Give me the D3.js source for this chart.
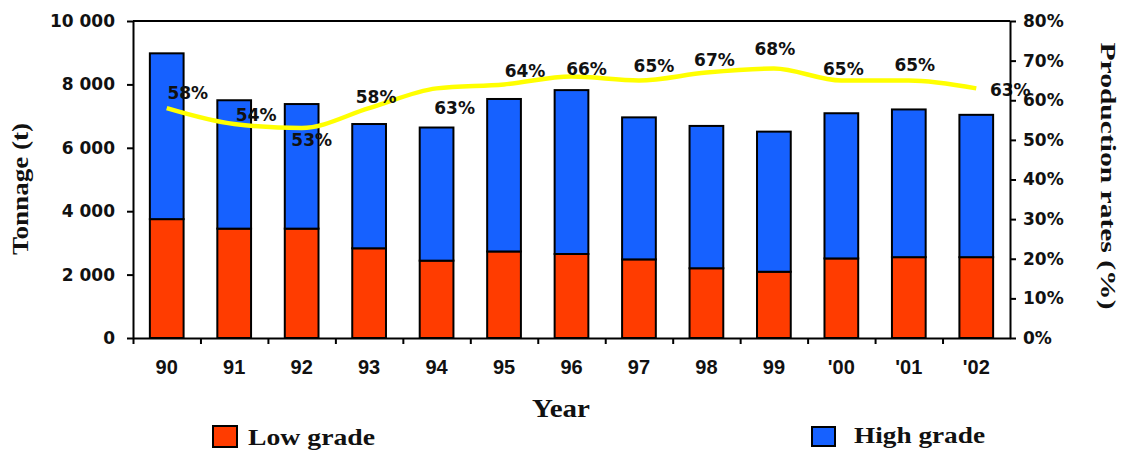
<!DOCTYPE html>
<html>
<head>
<meta charset="utf-8">
<script src="https://cdn.jsdelivr.net/npm/d3@7/dist/d3.min.js"></script>
<style>
  html, body { margin: 0; padding: 0; background: #fff; }
  svg { display: block; }
</style>
</head>
<body>
<svg id="chart" width="1126" height="451"></svg>
<script>
// Tonnage produced per year, split by grade, with the production rate line.
const years = ["90", "91", "92", "93", "94", "95", "96", "97", "98", "99", "'00", "'01", "'02"];
const lowGrade = [3750, 3450, 3450, 2830, 2440, 2730, 2650, 2480, 2200, 2090, 2510, 2550, 2550];
const highGrade = [5230, 4050, 3930, 3920, 4200, 4810, 5170, 4480, 4490, 4420, 4580, 4660, 4490];
const productionRates = [58, 54, 53, 58, 63, 64, 66, 65, 67, 68, 65, 65, 63];
const tonnageTicks = [0, 2000, 4000, 6000, 8000, 10000];
const rateTicks = [0, 10, 20, 30, 40, 50, 60, 70, 80];
const seriesNames = ["Low grade", "High grade"];

// Label placement relative to each point of the rate line (dx, dy to the label centre).
const rateLabelOffsets = [
  [21, -15], [22, -9], [10, 12], [7, -11], [18, 19], [21, -14], [15, -8],
  [15, -15], [8, -13], [1, -20], [2, -12], [6, -16], [34, 1]
];

const colors = { low: "#ff3c00", high: "#1661ff", line: "#ffff00" };

const plot = { left: 133, right: 1010, top: 21, bottom: 338 };
const svg = d3.select("#chart");

const x = d3.scaleBand()
  .domain(years)
  .range([plot.left, plot.right])
  .paddingInner(0.5)
  .paddingOuter(0.25);

const yT = d3.scaleLinear().domain([0, 10000]).range([plot.bottom, plot.top]);
const yR = d3.scaleLinear().domain([0, 80]).range([plot.bottom, plot.top]);

// Stacked bars
const table = years.map((yr, i) => ({ year: yr, low: lowGrade[i], high: highGrade[i] }));
const stacked = d3.stack().keys(["low", "high"])(table);

svg.append("g")
  .selectAll("g")
  .data(stacked)
  .join("g")
  .attr("fill", d => colors[d.key])
  .selectAll("rect")
  .data(d => d)
  .join("rect")
  .attr("x", d => x(d.data.year))
  .attr("width", x.bandwidth())
  .attr("y", d => yT(d[1]))
  .attr("height", d => yT(d[0]) - yT(d[1]))
  .attr("stroke", "#000")
  .attr("stroke-width", 2);

// Production rate line
const cx = yr => x(yr) + x.bandwidth() / 2;
const line = d3.line()
  .x((d, i) => cx(years[i]))
  .y(d => yR(d))
  .curve(d3.curveMonotoneX);

svg.append("path")
  .datum(productionRates)
  .attr("d", line)
  .attr("fill", "none")
  .attr("stroke", colors.line)
  .attr("stroke-width", 4.5)
  .attr("stroke-linejoin", "round");

// Rate labels
svg.append("g")
  .selectAll("text")
  .data(productionRates)
  .join("text")
  .attr("x", (d, i) => cx(years[i]) + rateLabelOffsets[i][0])
  .attr("y", (d, i) => yR(d) + rateLabelOffsets[i][1] + 6.2)
  .attr("text-anchor", "middle")
  .attr("font-family", "'DejaVu Sans', sans-serif")
  .attr("font-weight", "bold")
  .attr("font-size", 17)
  .attr("fill", "#111")
  .text(d => d + "%");

// Axes
const locale = d3.formatLocale({ decimal: ".", thousands: " ", grouping: [3], currency: ["", ""] });
const fmtT = locale.format(",");

const leftAxis = svg.append("g")
  .attr("transform", `translate(${plot.left},0)`)
  .call(d3.axisLeft(yT).tickValues(tonnageTicks).tickFormat(fmtT).tickSize(6).tickSizeOuter(0).tickPadding(12));

const rightAxis = svg.append("g")
  .attr("transform", `translate(${plot.right},0)`)
  .call(d3.axisRight(yR).tickValues(rateTicks).tickFormat(d => d + "%").tickSize(6).tickSizeOuter(0).tickPadding(7));

[leftAxis, rightAxis].forEach(g => {
  g.selectAll("text")
    .attr("font-family", "'DejaVu Sans', sans-serif")
    .attr("font-weight", "bold")
    .attr("font-size", 17)
    .attr("fill", "#111");
});

// Category boundary ticks along the bottom
const xEdge = d3.scaleLinear().domain([0, years.length]).range([plot.left, plot.right]);
svg.append("g")
  .attr("transform", `translate(0,${plot.bottom})`)
  .call(d3.axisBottom(xEdge).tickValues(d3.range(0, years.length)).tickFormat("").tickSize(6).tickSizeOuter(0));

// Year labels
const bottomAxis = svg.append("g")
  .attr("transform", `translate(0,${plot.bottom})`)
  .call(d3.axisBottom(x).tickSize(0).tickPadding(22));
bottomAxis.select(".domain").remove();
bottomAxis.selectAll("text")
  .attr("font-family", "'Liberation Sans', Arial, sans-serif")
  .attr("font-weight", "bold")
  .attr("font-size", 20)
  .attr("fill", "#111");

svg.selectAll(".domain, .tick line")
  .attr("stroke", "#000")
  .attr("stroke-width", 2);

// Top frame
svg.append("line")
  .attr("x1", plot.left).attr("x2", plot.right)
  .attr("y1", plot.top).attr("y2", plot.top)
  .attr("stroke", "#000").attr("stroke-width", 2);

// Axis titles
const serif = "'Liberation Serif', 'Times New Roman', serif";

svg.append("text")
  .attr("transform", "translate(28,189) rotate(-90)")
  .attr("text-anchor", "middle")
  .attr("font-family", serif)
  .attr("font-weight", "bold")
  .attr("font-size", 24)
  .attr("textLength", 132)
  .attr("lengthAdjust", "spacingAndGlyphs")
  .attr("fill", "#111")
  .text("Tonnage (t)");

svg.append("text")
  .attr("transform", "translate(1101,176) rotate(90)")
  .attr("text-anchor", "middle")
  .attr("font-family", serif)
  .attr("font-weight", "bold")
  .attr("font-size", 22)
  .attr("textLength", 267)
  .attr("lengthAdjust", "spacingAndGlyphs")
  .attr("fill", "#111")
  .text("Production rates (%)");

svg.append("text")
  .attr("x", 561).attr("y", 417)
  .attr("text-anchor", "middle")
  .attr("font-family", serif)
  .attr("font-weight", "bold")
  .attr("font-size", 26)
  .attr("textLength", 58)
  .attr("lengthAdjust", "spacingAndGlyphs")
  .attr("fill", "#111")
  .text("Year");

// Legend
const legendItems = [
  { name: seriesNames[0], color: colors.low, box: [213, 426, 24, 21], text: [248, 445, 127] },
  { name: seriesNames[1], color: colors.high, box: [812, 427, 23, 19], text: [854, 443, 131] }
];
const legend = svg.append("g")
  .selectAll("g")
  .data(legendItems)
  .join("g");
legend.append("rect")
  .attr("x", d => d.box[0]).attr("y", d => d.box[1])
  .attr("width", d => d.box[2]).attr("height", d => d.box[3])
  .attr("fill", d => d.color)
  .attr("stroke", "#000").attr("stroke-width", 2);
legend.append("text")
  .attr("x", d => d.text[0]).attr("y", d => d.text[1])
  .attr("font-family", serif)
  .attr("font-weight", "bold")
  .attr("font-size", 24)
  .attr("textLength", d => d.text[2])
  .attr("lengthAdjust", "spacingAndGlyphs")
  .attr("fill", "#111")
  .text(d => d.name);
</script>
</body>
</html>
